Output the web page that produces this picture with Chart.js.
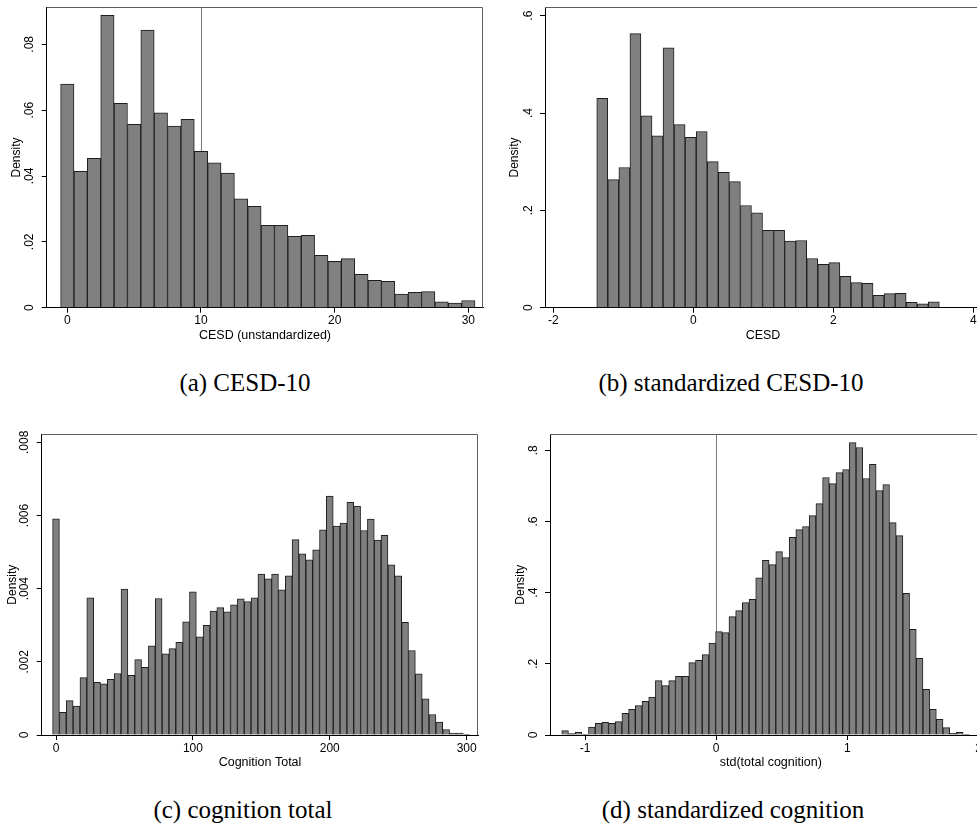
<!DOCTYPE html>
<html><head><meta charset="utf-8">
<script src="https://cdn.jsdelivr.net/npm/chart.js@4/dist/chart.umd.min.js"></script>
<style>
html,body{margin:0;padding:0;background:#fff;overflow:hidden;width:977px;height:830px;}
canvas.pan{position:absolute;}
.cap{position:absolute;font-family:'Liberation Serif',serif;font-size:25px;line-height:30px;white-space:nowrap;text-align:center;width:486px;color:#000;}
</style></head><body>
<canvas id="ca" class="pan" style="left:0px;top:0px" width="490" height="345"></canvas>
<canvas id="cb" class="pan" style="left:490px;top:0px" width="500" height="345"></canvas>
<canvas id="cc" class="pan" style="left:0px;top:427px" width="490" height="345"></canvas>
<canvas id="cd" class="pan" style="left:490px;top:427px" width="510" height="345"></canvas>
<div class="cap" style="left:2px;top:368px">(a) CESD-10</div>
<div class="cap" style="left:488px;top:368px">(b) standardized CESD-10</div>
<div class="cap" style="left:0px;top:795px">(c) cognition total</div>
<div class="cap" style="left:490px;top:795px">(d) standardized cognition</div>
<script>
// ---- Panel (a): CESD (unstandardized) ----
const cesdBins = [0,1,2,3,4,5,6,7,8,9,10,11,12,13,14,15,16,17,18,19,20,21,22,23,24,25,26,27,28,29,30];
const cesdDensity = [0.0679,0.0414,0.0454,0.0888,0.0621,0.0557,0.0843,0.0592,0.0552,0.0572,0.0475,0.0440,0.0409,0.0331,0.0308,0.0250,0.0250,0.0217,0.0220,0.0159,0.0141,0.0149,0.0101,0.0083,0.0080,0.0041,0.0047,0.0049,0.0018,0.0014,0.0022];
const cesdTicksX = [0,10,20,30];
const cesdTicksY = [0,0.02,0.04,0.06,0.08];
const cesdRefLine = 10;

// ---- Panel (b): standardized CESD ----
const stdCesdBins = [-1.301,-1.143,-0.985,-0.827,-0.669,-0.512,-0.354,-0.196,-0.038,0.120,0.278,0.436,0.594,0.752,0.910,1.068,1.226,1.383,1.541,1.699,1.857,2.015,2.173,2.331,2.489,2.647,2.805,2.962,3.120,3.278,3.436];
const stdCesdDensity = [0.430,0.263,0.288,0.563,0.394,0.353,0.534,0.376,0.350,0.362,0.300,0.278,0.259,0.210,0.195,0.159,0.159,0.137,0.138,0.101,0.089,0.0925,0.0644,0.0514,0.050,0.0253,0.0288,0.0295,0.011,0.0082,0.0123];
const stdCesdTicksX = [-2,0,2,4];
const stdCesdTicksY = [0,0.2,0.4,0.6];

// ---- Panel (c): cognition total ----
const cogBins = [0,5,10,15,20,25,30,35,40,45,50,55,60,65,70,75,80,85,90,95,100,105,110,115,120,125,130,135,140,145,150,155,160,165,170,175,180,185,190,195,200,205,210,215,220,225,230,235,240,245,250,255,260,265,270,275,280,285,290,295,300];
const cogDensity = [0.00591,0.00062,0.00094,0.00079,0.00157,0.00375,0.00144,0.00140,0.00152,0.00168,0.00399,0.00163,0.00206,0.00185,0.00244,0.00373,0.00222,0.00236,0.00253,0.00309,0.00391,0.00268,0.00300,0.00339,0.00348,0.00337,0.00356,0.00372,0.00365,0.00375,0.00440,0.00427,0.00440,0.00397,0.00435,0.00534,0.00495,0.00479,0.00506,0.00561,0.00653,0.00571,0.00579,0.00636,0.00626,0.00559,0.00590,0.00533,0.00546,0.00465,0.00435,0.00308,0.00231,0.00167,0.00099,0.00056,0.00035,0.00015,0.00005,0.00005,0.00002];
const cogTicksX = [0,100,200,300];
const cogTicksY = [0,0.002,0.004,0.006,0.008];

// ---- Panel (d): standardized cognition ----
const stdCogBins = [-1.152,-1.101,-1.050,-0.999,-0.948,-0.897,-0.846,-0.795,-0.744,-0.693,-0.642,-0.591,-0.540,-0.489,-0.438,-0.387,-0.336,-0.285,-0.234,-0.183,-0.132,-0.081,-0.030,0.021,0.072,0.123,0.174,0.225,0.276,0.327,0.378,0.429,0.480,0.531,0.582,0.633,0.684,0.735,0.786,0.837,0.888,0.939,0.990,1.041,1.092,1.143,1.194,1.245,1.296,1.347,1.398,1.449,1.500,1.551,1.602,1.653,1.704,1.755,1.806,1.857,1.908];
const stdCogDensity = [0.0122,0.0037,0.0075,0.0019,0.0225,0.0328,0.0356,0.0328,0.0375,0.0609,0.0721,0.0825,0.0946,0.1068,0.1527,0.1387,0.1527,0.1649,0.1649,0.2033,0.2099,0.2258,0.2586,0.2905,0.2877,0.3326,0.3495,0.3720,0.3814,0.4413,0.4910,0.4788,0.5154,0.4985,0.5556,0.5772,0.5856,0.6165,0.6503,0.7234,0.7065,0.7374,0.7459,0.8217,0.8077,0.7206,0.7608,0.6868,0.7037,0.5969,0.5603,0.3982,0.2970,0.2155,0.1284,0.0721,0.0440,0.0206,0.0047,0.0075,0.0019];
const stdCogTicksX = [-1,0,1,2];
const stdCogTicksY = [0,0.2,0.4,0.6,0.8];
const stdCogRefLine = 0;

Chart.defaults.font.family = "'Liberation Sans', Arial, sans-serif";
Chart.defaults.color = '#000';

function fmt(v){
  if (Math.abs(v) < 1e-12) return '0';
  let s = String(+v.toFixed(6));
  return s.replace(/^0\./,'.').replace(/^-0\./,'-.');
}

const stataPlugin = {
  id: 'stata',
  beforeDatasetsDraw(chart, args, opts) {
    if (opts.refLine === undefined || opts.refLine === null) return;
    const {ctx, chartArea: a, scales: {x}} = chart;
    const px = Math.round(x.getPixelForValue(opts.refLine)) + 0.5;
    ctx.save(); ctx.strokeStyle = '#7a7a7a'; ctx.lineWidth = 1;
    ctx.beginPath(); ctx.moveTo(px, a.top); ctx.lineTo(px, a.bottom); ctx.stroke(); ctx.restore();
  },
  afterDraw(chart, args, opts) {
    const {ctx, chartArea: a, scales: {y}} = chart;
    ctx.save();
    ctx.strokeStyle = '#5c5c5c'; ctx.lineWidth = 1;
    const t = Math.round(a.top) + 0.5, r = Math.round(a.right) - 0.5;
    ctx.beginPath(); ctx.moveTo(a.left, t); ctx.lineTo(r, t); ctx.lineTo(r, a.bottom); ctx.stroke();
    ctx.fillStyle = '#000'; ctx.font = "12px 'Liberation Sans', Arial, sans-serif";
    ctx.textAlign = 'center'; ctx.textBaseline = 'middle';
    y.ticks.forEach(tk => {
      const py = y.getPixelForValue(tk.value);
      ctx.save(); ctx.translate(a.left - opts.labelGap, py); ctx.rotate(-Math.PI/2);
      ctx.fillText(fmt(tk.value), 0, 0); ctx.restore();
    });
    ctx.restore();
  }
};

function makeHist(id, cfg) {
  const H = cfg.height;
  new Chart(document.getElementById(id), {
    type: 'bar',
    data: { datasets: [{
      data: cfg.bins.map((b, i) => ({x: b, y: cfg.dens[i]})),
      backgroundColor: '#808080', borderColor: '#1e1e1e', borderWidth: 1,
      barPercentage: 1, categoryPercentage: 1, borderSkipped: 'start'
    }]},
    options: {
      responsive: false, animation: false, events: [], devicePixelRatio: 1,
      layout: { padding: { left: 0, top: cfg.top, right: cfg.padRight, bottom: 0 } },
      plugins: { legend: {display: false}, tooltip: {enabled: false},
        stata: { labelGap: cfg.labelGap, refLine: cfg.refLine } },
      scales: {
        x: {
          type: 'linear', min: cfg.xmin, max: cfg.xmax, offset: false,
          grid: { display: true, drawOnChartArea: false, drawTicks: true, tickLength: 5, color: '#000', lineWidth: 1, offset: false },
          border: { display: true, color: '#000', width: 1 },
          ticks: { font: {size: 12}, color: '#000', padding: 1, maxRotation: 0, minRotation: 0, autoSkip: false, callback: v => fmt(v) },
          title: { display: true, text: cfg.xTitle, font: {size: 12.5}, color: '#000', padding: {top: 0, bottom: 1.5} },
          afterBuildTicks: s => { s.ticks = cfg.xTicks.map(v => ({value: v})); },
          afterFit: s => { s.height = H - cfg.bottom; s.paddingLeft = 0; s.paddingRight = 0; }
        },
        y: {
          type: 'linear', min: 0, max: cfg.ymax,
          grid: { display: true, drawOnChartArea: false, drawTicks: true, tickLength: 5, color: '#000', lineWidth: 1 },
          border: { display: true, color: '#000', width: 1 },
          ticks: { display: false },
          title: { display: true, text: 'Density', font: {size: 12}, color: '#000', padding: {top: cfg.yTitlePad, bottom: 0} },
          afterBuildTicks: s => { s.ticks = cfg.yTicks.map(v => ({value: v})); },
          afterFit: s => { s.width = cfg.left; s.paddingTop = 0; s.paddingBottom = 0; }
        }
      }
    },
    plugins: [stataPlugin]
  });
}

makeHist('ca', { height: 345, top: 7.3, bottom: 307.7, left: 46.7, padRight: 6.7,
  xmin: -1.541, xmax: 31.12, ymax: 0.09124, bins: cesdBins, dens: cesdDensity,
  xTicks: cesdTicksX, yTicks: cesdTicksY, xTitle: 'CESD (unstandardized)',
  labelGap: 17.4, yTitlePad: 9.5, refLine: cesdRefLine });

makeHist('cb', { height: 345, top: 7.3, bottom: 307.7, left: 55, padRight: 9,
  xmin: -2.119, xmax: 4.11, ymax: 0.6172, bins: stdCesdBins, dens: stdCesdDensity,
  xTicks: stdCesdTicksX, yTicks: stdCesdTicksY, xTitle: 'CESD',
  labelGap: 16.7, yTitlePad: 17.8, refLine: null });

makeHist('cc', { height: 345, top: 7.3, bottom: 308, left: 41.7, padRight: 11.7,
  xmin: -10.45, xmax: 308.5, ymax: 0.008219, bins: cogBins, dens: cogDensity,
  xTicks: cogTicksX, yTicks: cogTicksY, xTitle: 'Cognition Total',
  labelGap: 16.7, yTitlePad: 5.5, refLine: null });

makeHist('cd', { height: 345, top: 7.3, bottom: 308, left: 60, padRight: 8.4,
  xmin: -1.267, xmax: 2.1, ymax: 0.8449, bins: stdCogBins, dens: stdCogDensity,
  xTicks: stdCogTicksX, yTicks: stdCogTicksY, xTitle: 'std(total cognition)',
  labelGap: 16.7, yTitlePad: 23.5, refLine: stdCogRefLine });
</script>
</body></html>
